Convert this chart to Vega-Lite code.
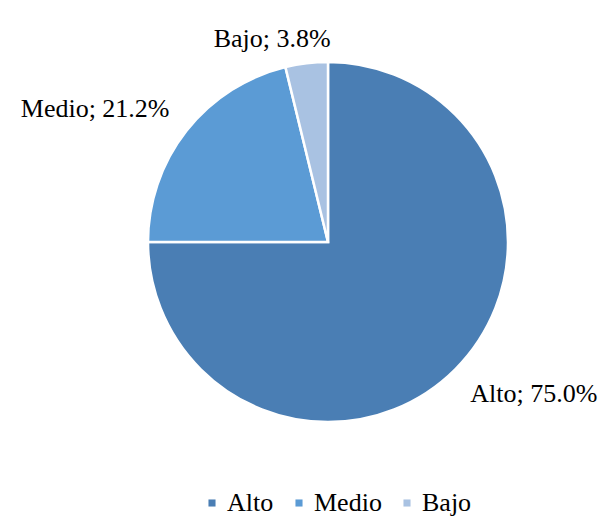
{
  "$schema": "https://vega.github.io/schema/vega-lite/v6.json",
  "autosize": {"type": "none"},
  "width": 550,
  "height": 484,
  "padding": {"left": 53, "top": 0, "right": 0, "bottom": 34},
  "background": "white",
  "config": {"view": {"stroke": null}, "font": "Liberation Serif"},
  "data": {"values": [
    {"cat": "Alto", "pct": 75.0, "order": 1},
    {"cat": "Medio", "pct": 21.2, "order": 2},
    {"cat": "Bajo", "pct": 3.8, "order": 3}
  ]},
  "layer": [
    {
      "mark": {"type": "arc", "outerRadius": 180, "stroke": "white", "strokeWidth": 2.5},
      "encoding": {
        "theta": {"field": "pct", "type": "quantitative", "stack": true},
        "order": {"field": "order", "type": "quantitative", "sort": "ascending"},
        "color": {
          "field": "cat", "type": "nominal",
          "scale": {"domain": ["Alto", "Medio", "Bajo"], "range": ["#4a7eb4", "#5b9bd5", "#a9c2e2"]},
          "legend": {
            "orient": "none", "legendX": 146, "legendY": 490, "title": null, "direction": "horizontal",
            "symbolType": "square", "symbolSize": 50, "symbolStrokeWidth": 0,
            "labelFont": "Liberation Serif", "labelFontSize": 26, "labelColor": "#000000",
            "columnPadding": 12, "labelOffset": 2
          }
        }
      }
    },
    {
      "mark": {
        "type": "text", "font": "Liberation Serif", "fontSize": 26, "color": "#000000",
        "radius": {"expr": "datum.cat === 'Bajo' ? 211 : datum.cat === 'Medio' ? 268 : 256"}
      },
      "encoding": {
        "theta": {"field": "pct", "type": "quantitative", "stack": true,
                  "scale": {"range": [-0.148, 6.135]}},
        "order": {"field": "order", "type": "quantitative", "sort": "ascending"},
        "text": {"field": "label", "type": "nominal"}
      },
      "transform": [
        {"calculate": "datum.cat + '; ' + format(datum.pct, '.1f') + '%'", "as": "label"}
      ]
    }
  ],
  "resolve": {"scale": {"theta": "independent"}}
}
